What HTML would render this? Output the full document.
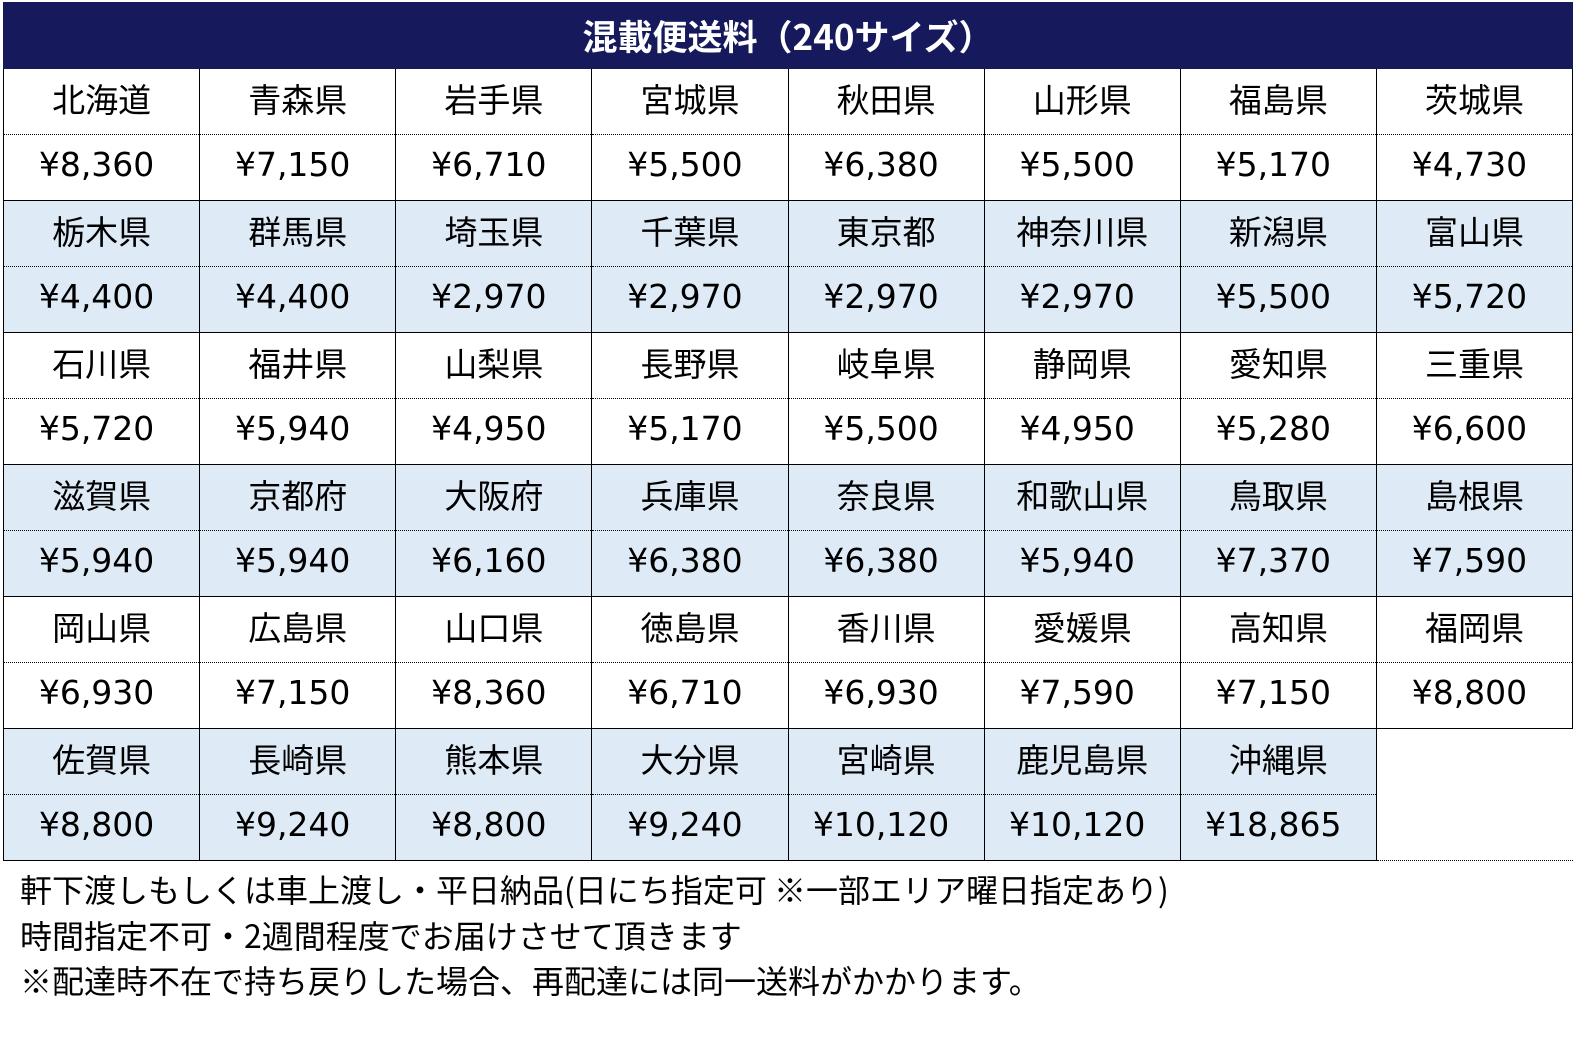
<!DOCTYPE html>
<html><head><meta charset="utf-8"><style>
body{margin:0;width:1575px;height:1048px;background:#fff;font-family:"Liberation Sans","Noto Sans CJK JP",sans-serif;color:#000;overflow:hidden}
table{position:absolute;left:3px;top:2px;border-collapse:collapse;table-layout:fixed;width:1570px}
td{border:1.5px solid #000;text-align:center;padding:0;height:65px;font-size:34px;line-height:65px;white-space:nowrap}
th{background:#161a5c;color:#fff;font-size:35px;height:65px;line-height:60px;padding:0;border:1.5px solid #161a5c;font-family:"Noto Sans CJK JP",sans-serif;font-weight:bold}
tr.n td{border-bottom:1px dotted #000;font-family:"Noto Sans CJK JP",sans-serif;font-size:33px;line-height:58px;padding-bottom:7px;height:58px}
tr.p td{border-top:1px dotted #000;font-size:33px;font-family:"DejaVu Sans",sans-serif;padding-right:10px;line-height:60px;padding-bottom:5px;height:60px}
tr.b td{background:#deeaf6}
td.e{background:#fff!important;border:none;border-left:1.5px solid #000;border-top:1.5px solid #000}
.notes{position:absolute;left:20px;top:867px;font-size:32px;line-height:45.5px;font-family:"Noto Sans CJK JP",sans-serif}
</style></head><body>
<table>
<tr><th colspan="8">混載便送料（240サイズ）</th></tr>
<tr class="n"><td>北海道</td><td>青森県</td><td>岩手県</td><td>宮城県</td><td>秋田県</td><td>山形県</td><td>福島県</td><td>茨城県</td></tr>
<tr class="p"><td>¥8,360</td><td>¥7,150</td><td>¥6,710</td><td>¥5,500</td><td>¥6,380</td><td>¥5,500</td><td>¥5,170</td><td>¥4,730</td></tr>
<tr class="n b"><td>栃木県</td><td>群馬県</td><td>埼玉県</td><td>千葉県</td><td>東京都</td><td>神奈川県</td><td>新潟県</td><td>富山県</td></tr>
<tr class="p b"><td>¥4,400</td><td>¥4,400</td><td>¥2,970</td><td>¥2,970</td><td>¥2,970</td><td>¥2,970</td><td>¥5,500</td><td>¥5,720</td></tr>
<tr class="n"><td>石川県</td><td>福井県</td><td>山梨県</td><td>長野県</td><td>岐阜県</td><td>静岡県</td><td>愛知県</td><td>三重県</td></tr>
<tr class="p"><td>¥5,720</td><td>¥5,940</td><td>¥4,950</td><td>¥5,170</td><td>¥5,500</td><td>¥4,950</td><td>¥5,280</td><td>¥6,600</td></tr>
<tr class="n b"><td>滋賀県</td><td>京都府</td><td>大阪府</td><td>兵庫県</td><td>奈良県</td><td>和歌山県</td><td>鳥取県</td><td>島根県</td></tr>
<tr class="p b"><td>¥5,940</td><td>¥5,940</td><td>¥6,160</td><td>¥6,380</td><td>¥6,380</td><td>¥5,940</td><td>¥7,370</td><td>¥7,590</td></tr>
<tr class="n"><td>岡山県</td><td>広島県</td><td>山口県</td><td>徳島県</td><td>香川県</td><td>愛媛県</td><td>高知県</td><td>福岡県</td></tr>
<tr class="p"><td>¥6,930</td><td>¥7,150</td><td>¥8,360</td><td>¥6,710</td><td>¥6,930</td><td>¥7,590</td><td>¥7,150</td><td>¥8,800</td></tr>
<tr class="n b"><td>佐賀県</td><td>長崎県</td><td>熊本県</td><td>大分県</td><td>宮崎県</td><td>鹿児島県</td><td>沖縄県</td><td class="e" rowspan="2"></td></tr>
<tr class="p b"><td>¥8,800</td><td>¥9,240</td><td>¥8,800</td><td>¥9,240</td><td>¥10,120</td><td>¥10,120</td><td>¥18,865</td></tr>
</table>
<div class="notes">軒下渡しもしくは車上渡し・平日納品(日にち指定可 ※一部エリア曜日指定あり)<br>時間指定不可・2週間程度でお届けさせて頂きます<br>※配達時不在で持ち戻りした場合、再配達には同一送料がかかります。</div>
</body></html>
